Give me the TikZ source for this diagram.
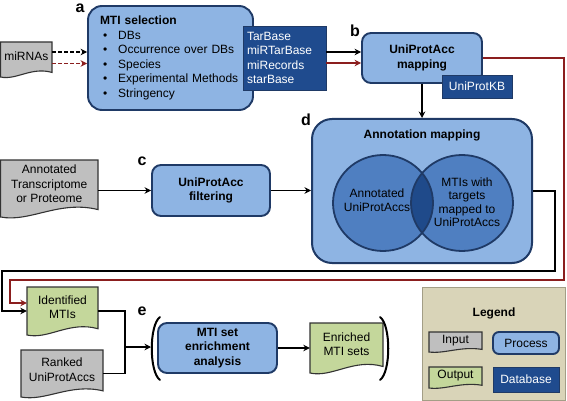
\documentclass[tikz,border=0pt]{standalone}
\usepackage{fontspec}
\setmainfont{Liberation Sans}
\usetikzlibrary{arrows.meta}

\definecolor{procfill}{HTML}{8EB4E3}
\definecolor{navy}{HTML}{1F3A66}
\definecolor{dbfill}{HTML}{1F4B8E}
\definecolor{infill}{HTML}{BFBFBF}
\definecolor{outfill}{HTML}{C4D79B}
\definecolor{vennfill}{HTML}{4F7FC1}
\definecolor{ovlfill}{HTML}{1F4A8A}
\definecolor{mtired}{HTML}{8B1E1E}
\definecolor{legfill}{HTML}{D9D4B8}
\definecolor{legline}{HTML}{A39E86}

% document shape: name, fill, left, top, right, bottom, text
\newcommand{\docnode}[7]{%
  \filldraw[docline, fill=#2] (#3,#4) -- (#5,#4) -- (#5,{#6-0.13*(#6-#4)})
    .. controls ({#3+0.6*(#5-#3)},{#6-0.3*(#6-#4)}) and ({#3+0.3*(#5-#3)},{#6+0.1*(#6-#4)}) .. (#3,#6) -- cycle;
  \node[minimum width={(#5-#3)*1pt}, minimum height={(#6-#4)*1pt}] (#1) at ({(#3+#5)/2},{(#4+#6)/2}) {};
  \node[align=center] (#1-t) at ({(#3+#5)/2},{(#4+#6)/2-0.08*(#6-#4)}) {#7};
}

\begin{document}
\fontsize{12}{14.5}\selectfont
\begin{tikzpicture}[x=1pt,y=-1pt,
  proc/.style={draw=navy, fill=procfill, line width=1.9pt, rounded corners=9pt, font=\bfseries, align=center},
  dbbox/.style={draw=navy, fill=dbfill, line width=0.8pt, text=white},
  docline/.style={draw=black!80, line width=1.1pt},
  link/.style={line width=1.7pt, -{Stealth[length=6.5pt,width=6.5pt]}},
  plain/.style={line width=1.7pt},
  tag/.style={font=\fontsize{16}{16}\selectfont\bfseries, anchor=base},
  venn/.style={draw=navy, line width=1.8pt},
  brk/.style={line width=2pt, line cap=round}]
\tikzstyle{every node}+=[inner sep=0pt]
\useasboundingbox (0,0) rectangle (567,401);

% a
\node[tag] (taga) at (80,12.5) {a};
\node[proc, rounded corners=14pt, minimum width=165pt, minimum height=104pt, text width=141pt, align=left, font=\mdseries] (sel) at (170.5,58)
  {\textbf{MTI selection}\\
   \hspace*{3pt}\textbullet\hspace{11pt}DBs\\
   \hspace*{3pt}\textbullet\hspace{11pt}Occurrence over DBs\\
   \hspace*{3pt}\textbullet\hspace{11pt}Species\\
   \hspace*{3pt}\textbullet\hspace{11pt}Experimental Methods\\
   \hspace*{3pt}\textbullet\hspace{11pt}Stringency};
\node[dbbox, minimum width=83pt, minimum height=64pt, text width=75pt, align=left] (dbs) at (284.5,58)
  {TarBase\\miRTarBase\\miRecords\\starBase};
\docnode{mir}{infill}{0.6}{42}{52}{77}{miRNAs}
\draw[link, dash pattern=on 4pt off 2pt] ([yshift=6pt]sel.west -| mir.east) -- ([yshift=6pt]sel.west);
\draw[link, mtired, dash pattern=on 4pt off 2pt] ([yshift=-5.5pt]sel.west -| mir.east) -- ([yshift=-5.5pt]sel.west);

% b
\node[tag] (tagb) at (355,37) {b};
\node[proc, minimum width=120pt, minimum height=50pt] (map) at (422,58) {UniProtAcc\\mapping};
\node[dbbox, minimum width=70pt, minimum height=23pt] (kb) at (477,86.5) {UniProtKB};
\draw[link] ([yshift=6pt]map.west -| dbs.east) -- ([yshift=6pt]map.west);
\draw[link, mtired] ([yshift=-5pt]map.west -| dbs.east) -- ([yshift=-5pt]map.west);

% c
\node[tag] (tagc) at (142,165) {c};
\docnode{trn}{infill}{0.6}{160}{98}{217}{Annotated\\Transcriptome\\or Proteome}
\node[proc, minimum width=118pt, minimum height=51pt] (filt) at (211,190.5) {UniProtAcc\\filtering};
\draw[link] (filt.west -| trn.east) -- (filt.west);

% d
\node[tag] (tagd) at (306,125) {d};
\node[proc, rounded corners=20pt, line width=2pt, minimum width=220pt, minimum height=144pt] (ann) at (422,191) {};
\node[font=\bfseries] (annt) at (422,135) {Annotation mapping};
\fill[vennfill] (383,203) ellipse [x radius=50, y radius=48];
\fill[vennfill] (462,203) ellipse [x radius=51, y radius=48];
\begin{scope}
  \clip (383,203) ellipse [x radius=50, y radius=48];
  \fill[ovlfill] (462,203) ellipse [x radius=51, y radius=48];
\end{scope}
\draw[venn] (383,203) ellipse [x radius=50, y radius=48];
\draw[venn] (462,203) ellipse [x radius=51, y radius=48];
\node[align=center] (vl) at (377,200) {Annotated\\UniProtAccs};
\node[align=center, font=\fontsize{12}{13.5}\selectfont] (vr) at (467,202) {MTIs with\\targets\\mapped to\\UniProtAccs};
\draw[link] (map.south) -- (map.south |- ann.north);
\draw[link] (filt.east) -- (filt.east -| ann.west);

% e
\node[tag] (tage) at (142,315) {e};
\docnode{ident}{outfill}{27}{287}{98}{335}{Identified\\MTIs}
\docnode{rank}{infill}{21}{350}{103}{397}{Ranked\\UniProtAccs}
\node[proc, minimum width=119pt, minimum height=50pt] (set) at (217.5,348) {MTI set\\enrichment\\analysis};
\docnode{enr}{outfill}{310}{323}{383}{373}{Enriched\\MTI sets}
\draw[brk] (160,317) .. controls (149,325) and (149,372) .. (160,380);
\draw[brk] (380,317) .. controls (391,325) and (391,372) .. (380,380);
\coordinate (jn) at (125,347);
\coordinate (brkl) at (151,347);
\draw[plain] (ident.east) -| (jn);
\draw[plain] (rank.east) -| (jn);
\draw[link] (jn) -- (brkl);
\draw[link] (set.east) -- (enr.west);

% feedback lines
\coordinate (br) at (555,271);
\coordinate (bl) at (2,271);
\draw[link] (ann.east) -| (br) -- (bl) |- (ident.west);
\coordinate (rr) at (564,280);
\coordinate (rl) at (10,280);
\draw[link, mtired] (map.east) -| (rr) -- (rl) |- ([yshift=8pt]ident.west);

% legend
\node[draw=legline, fill=legfill, line width=1pt, minimum width=143pt, minimum height=113pt] (leg) at (493.5,343.5) {};
\node[font=\bfseries] (legt) at (494,313) {Legend};
\docnode{legin}{infill}{429}{332}{482}{352}{Input}
\node[proc, rounded corners=6pt, minimum width=66pt, minimum height=22pt, font=\mdseries] (legproc) at (526,343) {Process};
\docnode{legout}{outfill}{429}{367}{482}{388}{Output}
\node[dbbox, minimum width=66pt, minimum height=25pt] (legdb) at (526,379.5) {Database};
\end{tikzpicture}
\end{document}
